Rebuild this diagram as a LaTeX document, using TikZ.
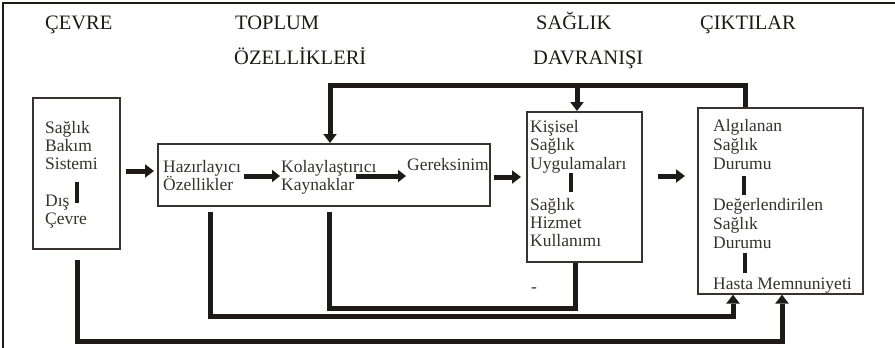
\documentclass[tikz,border=0pt]{standalone}
\usepackage{fontspec}
\setmainfont{Liberation Serif}
\usetikzlibrary{arrows.meta}
\definecolor{ink}{HTML}{1E1A18}
\definecolor{boxline}{HTML}{3A3230}
\tikzset{
  x=1pt,y=-1pt,
  boxnode/.style={draw=boxline,line width=1.6pt,inner sep=0,anchor=north west,minimum width=#1},
  hdr/.style={font=\fontsize{20.5}{22}\selectfont,text=ink,inner sep=0,anchor=base west},
  txt/.style={font=\fontsize{17.5}{18}\selectfont,text=ink!90,inner sep=0,anchor=base west},
  conn/.style={draw=ink,line width=5pt},
  arr/.style={draw=ink,line width=5pt,-{Triangle[length=9pt,width=13pt]}},
  sarr/.style={draw=ink,line width=5pt,-{Triangle[length=8pt,width=12pt]}},
  bar/.style={draw=ink,line width=4pt},
}
\newcommand\tline[4]{\node[txt] (#1) at (#2,#3) {#4};}
\begin{document}
\begin{tikzpicture}
\useasboundingbox (0,0) rectangle (895,348);
% outer frame (top and left visible)
\coordinate (fo) at (3,3);
\draw[ink,line width=2pt] (895,3) -- (fo) -- (3,348);

% headers
\node[hdr] (h1) at (45,29) {ÇEVRE};
\node[hdr] (h2a) at (235,29) {TOPLUM};
\node[hdr] (h2b) at (234,64) {ÖZELLİKLERİ};
\node[hdr] (h3a) at (536,29) {SAĞLIK};
\node[hdr] (h3b) at (533,64) {DAVRANIŞI};
\node[hdr] (h4) at (700,29) {ÇIKTILAR};

% boxes
\node[boxnode=87pt,minimum height=151pt] (cevre) at (32,97) {};
\node[boxnode=332pt,minimum height=62pt] (toplum) at (157,143) {};
\node[boxnode=115pt,minimum height=150pt] (saglik) at (526,111) {};
\node[boxnode=165pt,minimum height=186pt] (cikti) at (697,107) {};

% cevre texts
\tline{c1}{45}{133}{Sağlık}
\tline{c2}{45}{151}{Bakım}
\tline{c3}{45}{169}{Sistemi}
\tline{c4}{45}{206}{Dış}
\tline{c5}{45}{224}{Çevre}
\draw[bar] (77,182) -- (77,203);

% toplum texts
\tline{t1}{163}{172}{Hazırlayıcı}
\tline{t2}{163}{190}{Özellikler}
\tline{t3}{281}{172}{Kolaylaştırıcı}
\tline{t4}{281}{190}{Kaynaklar}
\tline{t5}{407}{170}{Gereksinim}

% saglik texts
\tline{s1}{530}{132}{Kişisel}
\tline{s2}{530}{150}{Sağlık}
\tline{s3}{530}{169}{Uygulamaları}
\tline{s4}{530}{210}{Sağlık}
\tline{s5}{530}{228}{Hizmet}
\tline{s6}{530}{246}{Kullanımı}
\draw[bar] (571,173) -- (571,192);
\node[txt] (dash) at (531,292) {-};

% cikti texts
\tline{k1}{713}{131}{Algılanan}
\tline{k2}{713}{150}{Sağlık}
\tline{k3}{713}{169}{Durumu}
\tline{k4}{713}{210}{Değerlendirilen}
\tline{k5}{713}{229}{Sağlık}
\tline{k6}{713}{248}{Durumu}
\tline{k7}{713}{289}{Hasta Memnuniyeti}
\draw[bar] (744,176) -- (744,195);
\draw[bar] (745,253) -- (745,273);

% horizontal arrows
\draw[arr] ([xshift=5pt]cevre.east |- 0,171) -- ([xshift=-3pt]toplum.west |- 0,171);
\draw[sarr] ([xshift=3pt]t1.east |- 0,176) -- ([xshift=-1pt]t3.west |- 0,176);
\draw[sarr] ([xshift=2pt]t4.east |- 0,176) -- ([xshift=-1pt]t5.west |- 0,176);
\draw[arr] ([xshift=3pt]toplum.east |- 0,177) -- ([xshift=-5pt]saglik.west |- 0,177);
\draw[arr] ([xshift=15pt]saglik.east |- 0,176) -- ([xshift=-12pt]cikti.west |- 0,176);

% top feedback
\coordinate (tr) at (745,85);
\coordinate (tl) at (330,85);
\draw[conn,line join=miter] (cikti.north -| tr) -- (tr) -- (tl) -- ([yshift=9pt]toplum.north -| tl);
\draw[arr] (tl) -- (toplum.north -| tl);
\draw[arr] (577,85) -- (saglik.north -| 577,0);

% bottom lines
\draw[conn,line join=miter] ([yshift=-5pt]toplum.south -| 210,0) -- (210,316) -- (733,316) -- ([yshift=-9pt]cikti.south -| 733,0);
\draw[arr] (733,300) -- (cikti.south -| 733,0);
\draw[conn,line join=miter] ([yshift=-5pt]toplum.south -| 329,0) -- (329,308) -- (575,308) -- (saglik.south -| 575,0);
\draw[conn,line join=miter] ([yshift=-10pt]cevre.south -| 77,0) -- (77,341) -- (782,341) -- ([yshift=-9pt]cikti.south -| 782,0);
\draw[arr] (782,300) -- (cikti.south -| 782,0);
\end{tikzpicture}
\end{document}
